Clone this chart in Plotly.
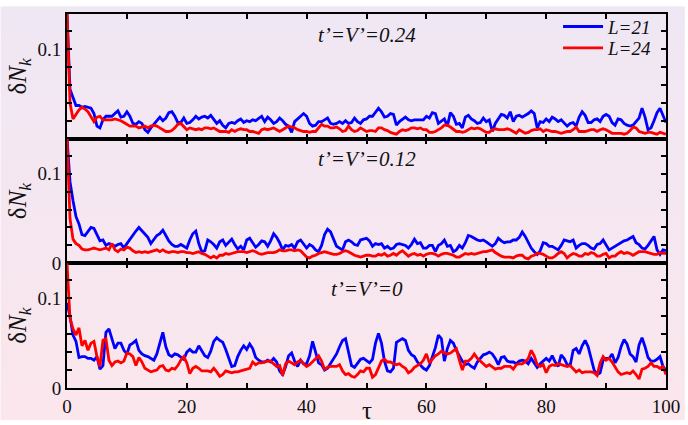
import base64
import plotly.graph_objects as go

# ---------------- data (values in units of 1e-3, sampled every 0.5 in tau) ----------------
tau_step = 0.5
panel_titles = ["t’=V’=0.24", "t’=V’=0.12", "t’=V’=0"]
series_names = ["L=21", "L=24"]

p1_L21 = [140, 55, 46, 37, 37, 35, 36, 35, 34, 28,
          14, 12, 21, 25, 25, 25, 28, 31, 24, 25,
          30, 25, 17, 16, 19, 17, 10, 7, 12, 16,
          19, 24, 20, 23, 29, 30, 25, 18, 18, 23,
          17, 18, 21, 25, 22, 24, 25, 23, 26, 22,
          17, 20, 15, 12, 17, 18, 17, 20, 22, 18,
          20, 19, 21, 20, 23, 25, 19, 24, 21, 17,
          19, 23, 20, 16, 14, 7, 19, 22, 24, 28,
          25, 17, 14, 15, 19, 19, 21, 23, 17, 16,
          17, 19, 17, 20, 17, 18, 23, 19, 17, 21,
          22, 25, 25, 29, 34, 30, 24, 25, 28, 27,
          15, 19, 22, 24, 21, 20, 21, 21, 21, 21,
          25, 23, 29, 28, 17, 20, 22, 14, 29, 25,
          16, 17, 12, 24, 26, 22, 20, 17, 18, 23,
          19, 21, 8, 17, 22, 27, 26, 23, 30, 19,
          25, 26, 24, 26, 28, 31, 28, 12, 19, 18,
          22, 19, 24, 22, 19, 21, 18, 14, 17, 18,
          14, 24, 30, 26, 18, 18, 21, 22, 19, 25,
          27, 25, 18, 15, 22, 21, 17, 15, 14, 15,
          19, 23, 34, 24, 10, 12, 20, 29, 34, 26,
          18]
p1_L24 = [140, 40, 22, 27, 32, 35, 33, 30, 25, 19,
          24, 25, 21, 21, 21, 21, 22, 21, 20, 18,
          16, 14, 14, 14, 12, 13, 14, 12, 14, 15,
          14, 12, 10, 8, 8, 9, 12, 16, 17, 13,
          10, 12, 11, 10, 11, 10, 12, 12, 11, 12,
          10, 8, 8, 8, 7, 10, 8, 10, 11, 10,
          10, 8, 8, 7, 6, 10, 11, 10, 11, 12,
          10, 8, 10, 12, 14, 13, 12, 10, 9, 8,
          8, 7, 8, 8, 12, 16, 14, 14, 12, 12,
          13, 11, 8, 9, 14, 10, 8, 9, 12, 10,
          8, 9, 9, 8, 12, 12, 10, 9, 7, 6,
          5, 8, 10, 9, 10, 12, 12, 11, 12, 10,
          10, 7, 7, 8, 10, 12, 15, 15, 13, 10,
          8, 8, 7, 8, 10, 12, 11, 12, 11, 9,
          7, 7, 10, 11, 10, 10, 10, 11, 10, 8,
          6, 10, 8, 6, 7, 9, 10, 10, 11, 8,
          10, 9, 8, 8, 7, 6, 7, 8, 8, 10,
          13, 8, 8, 8, 9, 10, 10, 8, 10, 11,
          10, 8, 6, 6, 6, 6, 5, 6, 9, 13,
          12, 8, 7, 6, 7, 7, 6, 5, 7, 6,
          5]

p2_L21 = [140, 91, 70, 52, 44, 32, 31, 35, 40, 39,
          32, 25, 26, 20, 22, 21, 19, 21, 22, 17,
          22, 27, 31, 36, 40, 36, 32, 29, 22, 27,
          31, 33, 37, 31, 25, 21, 19, 19, 21, 19,
          17, 26, 33, 36, 22, 13, 14, 26, 24, 21,
          17, 24, 26, 20, 23, 27, 21, 16, 19, 15,
          26, 28, 23, 18, 21, 25, 24, 19, 25, 33,
          29, 23, 15, 20, 19, 21, 17, 24, 26, 22,
          17, 21, 19, 15, 13, 20, 32, 38, 35, 27,
          19, 17, 15, 24, 26, 24, 21, 20, 26, 27,
          28, 25, 19, 22, 21, 22, 17, 19, 16, 17,
          21, 22, 21, 20, 17, 21, 27, 22, 23, 17,
          17, 20, 20, 13, 20, 22, 26, 19, 20, 13,
          15, 20, 17, 23, 31, 30, 28, 26, 25, 26,
          24, 21, 19, 22, 28, 25, 23, 24, 24, 26,
          26, 29, 35, 30, 24, 17, 13, 10, 14, 23,
          22, 19, 19, 17, 15, 20, 26, 25, 24, 26,
          17, 20, 22, 22, 20, 17, 16, 21, 22, 26,
          21, 15, 17, 19, 21, 23, 25, 26, 28, 30,
          23, 21, 17, 16, 20, 25, 30, 15, 10, 15,
          14]
p2_L24 = [140, 50, 27, 22, 20, 16, 15, 15, 16, 17,
          16, 15, 16, 17, 15, 22, 15, 13, 16, 15,
          18, 17, 14, 12, 13, 12, 13, 12, 13, 14,
          15, 13, 15, 13, 12, 13, 13, 12, 13, 13,
          12, 12, 11, 12, 13, 11, 10, 8, 6, 8,
          6, 9, 9, 11, 10, 11, 12, 13, 13, 13,
          12, 13, 14, 13, 11, 10, 11, 12, 12, 12,
          13, 15, 14, 14, 15, 15, 14, 15, 14, 10,
          7, 6, 8, 9, 11, 12, 13, 12, 11, 10,
          10, 11, 13, 14, 13, 11, 9, 8, 7, 8,
          9, 9, 8, 8, 10, 9, 11, 8, 9, 11,
          9, 12, 14, 11, 8, 10, 11, 9, 10, 8,
          10, 11, 11, 10, 8, 10, 11, 11, 10, 9,
          7, 7, 9, 11, 10, 11, 10, 11, 12, 13,
          13, 14, 15, 12, 10, 8, 7, 7, 7, 6,
          8, 9, 9, 6, 5, 8, 9, 11, 11, 10,
          8, 6, 6, 8, 11, 13, 11, 6, 9, 11,
          10, 8, 8, 11, 10, 12, 11, 8, 8, 10,
          11, 6, 8, 8, 11, 13, 11, 12, 11, 9,
          11, 13, 13, 13, 12, 11, 10, 10, 12, 11,
          11]

p3_L21 = [95, 80, 59, 52, 34, 35, 35, 33, 33, 31,
          35, 21, 25, 62, 66, 55, 44, 50, 50, 42,
          38, 48, 50, 53, 42, 38, 36, 35, 33, 31,
          38, 51, 62, 46, 37, 35, 38, 37, 34, 32,
          40, 43, 40, 40, 47, 42, 36, 34, 41, 52,
          56, 53, 51, 43, 34, 24, 25, 35, 42, 47,
          43, 49, 44, 34, 31, 29, 29, 31, 29, 33,
          29, 19, 15, 24, 36, 39, 30, 24, 31, 27,
          27, 36, 52, 40, 28, 26, 20, 22, 27, 32,
          38, 46, 53, 55, 40, 25, 23, 28, 32, 33,
          30, 28, 32, 50, 61, 50, 30, 19, 18, 22,
          51, 53, 55, 53, 42, 37, 35, 29, 25, 22,
          20, 25, 35, 45, 59, 55, 30, 44, 53, 50,
          42, 36, 30, 26, 27, 24, 22, 29, 33, 37,
          38, 40, 38, 33, 26, 34, 35, 30, 29, 29,
          27, 30, 31, 30, 27, 33, 28, 23, 27, 30,
          33, 30, 36, 29, 24, 37, 33, 26, 25, 42,
          44, 38, 47, 53, 46, 33, 20, 15, 17, 31,
          33, 33, 38, 28, 34, 46, 54, 49, 38, 35,
          29, 48, 56, 46, 34, 30, 30, 32, 35, 24,
          20]
p3_L24 = [140, 78, 66, 59, 67, 47, 53, 42, 50, 52,
          35, 24, 53, 55, 31, 25, 29, 30, 28, 30,
          39, 38, 35, 25, 34, 29, 22, 20, 18, 19,
          20, 24, 25, 20, 19, 22, 21, 25, 31, 35,
          28, 16, 22, 24, 22, 19, 19, 19, 18, 22,
          18, 13, 15, 19, 18, 17, 18, 18, 19, 20,
          21, 22, 29, 26, 28, 28, 29, 30, 30, 27,
          24, 25, 14, 27, 30, 28, 26, 29, 31, 27,
          24, 26, 29, 33, 36, 30, 21, 23, 24, 24,
          24, 26, 19, 15, 16, 13, 12, 15, 19, 18,
          22, 22, 12, 15, 23, 30, 32, 29, 29, 27,
          26, 27, 24, 22, 17, 19, 23, 25, 27, 31,
          38, 28, 32, 36, 38, 41, 39, 38, 39, 42,
          44, 31, 20, 30, 30, 33, 38, 33, 30, 27,
          24, 26, 23, 21, 22, 22, 24, 24, 24, 21,
          26, 27, 27, 29, 33, 42, 36, 26, 24, 26,
          17, 24, 26, 25, 27, 26, 25, 24, 25, 22,
          18, 20, 17, 18, 18, 18, 17, 14, 28, 35,
          31, 33, 29, 24, 18, 15, 16, 17, 16, 19,
          15, 10, 21, 22, 24, 28, 24, 24, 22, 24,
          15]

x_tickvals = [0, 10, 20, 30, 40, 50, 60, 70, 80, 90, 100]
x_ticktext = ["0", "", "20", "", "40", "", "60", "", "80", "", "100"]
y_tickvals = [0, 0.02, 0.04, 0.06, 0.08, 0.1, 0.12]
y_ticktext = ["0", "", "", "", "", "0.1", ""]

# ---------------- figure ----------------
W, H = 688, 425
ML, MR, MT, MB = 67, 19, 8, 33
FONT = "Liberation Serif, Times New Roman, serif"
BLUE, RED = "#0000FF", "#FF0000"
pw, ph = W - ML - MR, H - MT - MB

panels = [(p1_L21, p1_L24), (p2_L21, p2_L24), (p3_L21, p3_L24)]

fig = go.Figure()
for i, (b, r) in enumerate(panels):
    ax = "" if i == 0 else str(i + 1)
    for j, (vals, name, col) in enumerate(((b, series_names[0], BLUE), (r, series_names[1], RED))):
        fig.add_trace(go.Scatter(
            x=[k * tau_step for k in range(len(vals))],
            y=[v / 1000 for v in vals],
            mode="lines", name="<i>" + name + "</i>",
            line=dict(color=col, width=2.8),
            showlegend=(i == 0),
            legend="legend" if j == 0 else "legend2",
            xaxis="x" + ax, yaxis="y" + ax,
        ))

domains = [[2 / 3, 1], [1 / 3, 2 / 3], [0, 1 / 3]]
common = dict(showline=True, linecolor="black", linewidth=2, mirror="allticks",
              ticks="inside", ticklen=5, tickwidth=1.5, tickcolor="black",
              showgrid=False, zeroline=False,
              tickfont=dict(family=FONT, size=19, color="#111"))
layout = {}
for i in range(3):
    ax = "" if i == 0 else str(i + 1)
    layout["xaxis" + ax] = dict(common, range=[0, 100], anchor="y" + ax,
                                tickmode="array", tickvals=x_tickvals, ticktext=x_ticktext,
                                showticklabels=(i == 2),
                                **({} if i == 0 else {"matches": "x"}))
    yt = list(y_ticktext)
    if i == 0:
        yt[0] = ""
    layout["yaxis" + ax] = dict(common, range=[0, 0.139], domain=domains[i], anchor="x" + ax,
                                tickmode="array", tickvals=y_tickvals, ticktext=yt,
                                title=dict(text="δ<i>N</i><sub><i>k</i></sub>",
                                           font=dict(family=FONT, size=25, color="#111"),
                                           standoff=4))

# gradient background as inline SVG image
svg = ('<svg xmlns="http://www.w3.org/2000/svg" width="688" height="425">'
       '<defs><linearGradient id="g" x1="0" y1="0" x2="0" y2="1">'
       '<stop offset="0" stop-color="#EFE7F4"/><stop offset="1" stop-color="#FBE6EC"/>'
       '</linearGradient></defs><rect width="688" height="425" fill="url(#g)"/></svg>')
src = "data:image/svg+xml;base64," + base64.b64encode(svg.encode()).decode()

ann = []
title_y = [(392 - 30) / ph, (392 - 157) / ph, (392 - 290) / ph]
for t, yy in zip(panel_titles, title_y):
    ann.append(dict(text="<i>" + t + "</i>", x=0.5, y=yy, xref="paper", yref="paper",
                    showarrow=False, xanchor="center", yanchor="middle",
                    font=dict(family=FONT, size=21, color="#111")))
ann.append(dict(text="τ", x=0.5, y=-23 / ph, xref="paper", yref="paper", showarrow=False,
                xanchor="center", yanchor="middle", font=dict(family=FONT, size=25, color="#111")))

leg_common = dict(xanchor="right", yanchor="middle", bgcolor="rgba(0,0,0,0)",
                  font=dict(family=FONT, size=19, color="#111"), itemwidth=40)
fig.update_layout(
    width=W, height=H, autosize=False,
    margin=dict(l=ML, r=MR, t=MT, b=MB),
    paper_bgcolor="rgba(0,0,0,0)", plot_bgcolor="rgba(0,0,0,0)",
    images=[dict(source=src, xref="paper", yref="paper", x=-ML / pw, y=1 + MT / ph,
                 sizex=W / pw, sizey=H / ph, sizing="stretch", xanchor="left", yanchor="top",
                 layer="below")],
    annotations=ann,
    legend=dict(leg_common, x=(660 - ML) / pw, y=(392 - 21) / ph),
    legend2=dict(leg_common, x=(660 - ML) / pw, y=(392 - 43) / ph),
    **layout,
)
fig.write_html("out.html")
